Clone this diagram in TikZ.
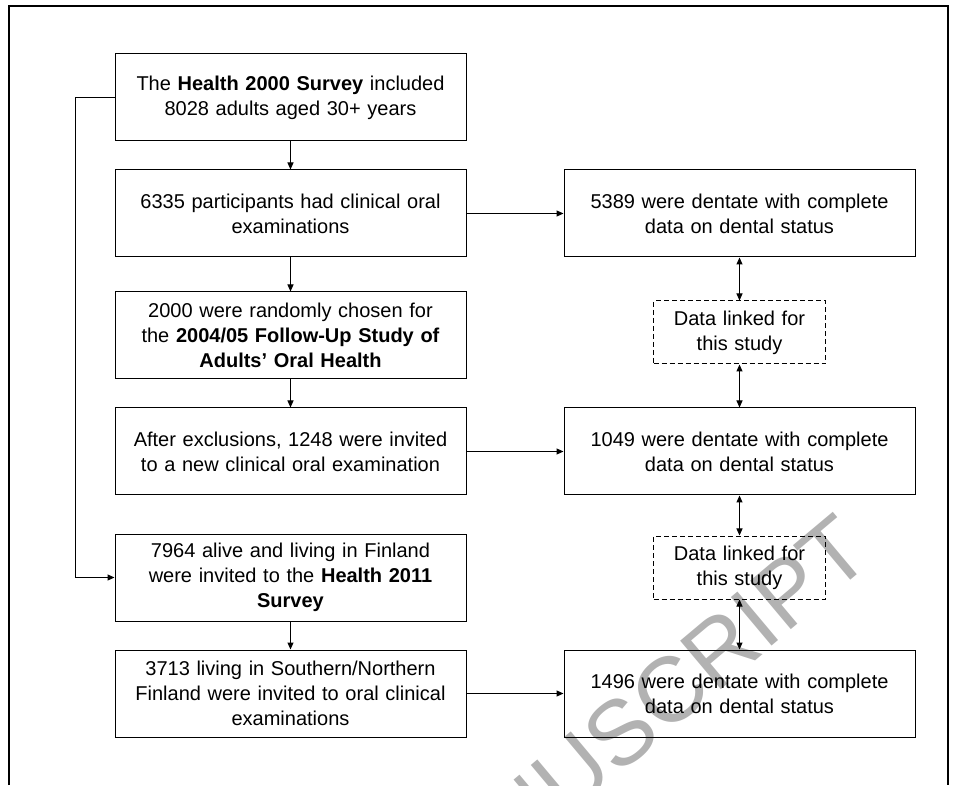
\documentclass[tikz,border=0pt]{standalone}
\usepackage{fontspec}
\setmainfont{Liberation Sans}
\usetikzlibrary{arrows.meta,positioning}

\begin{document}
\begin{tikzpicture}[x=1pt,y=1pt,>={Triangle[length=7pt,width=6pt]},line width=1pt,node distance=28pt,
box/.style={draw,minimum width=351pt,minimum height=87pt,text width=345pt,align=center,inner sep=0pt,font=\fontsize{20}{25}\selectfont},
dbox/.style={box,dash pattern=on 5pt off 3pt,minimum width=172pt,minimum height=63pt,text width=165pt}]
\useasboundingbox (0,0) rectangle (958,785);

% watermark
\node[rotate=40,anchor=base east,inner sep=0pt,text=black!30,font=\fontsize{92}{92}\selectfont] (wm) at (876,226) {MANUSCRIPT};
\draw[line width=1.8pt] (9,0) -- (9,779) -- (948,779) -- (948,0);

\node[box] (A) at (290.5,687.5) {The \textbf{Health 2000 Survey} included\\8028 adults aged 30+ years};
\node[box] (B) [below =of A] {6335 participants had clinical oral\\examinations};
\node[box] (C) [below =34pt of B] {2000 were randomly chosen for\\the \textbf{2004/05 Follow-Up Study of}\\\textbf{Adults’ Oral Health}};
\node[box] (D) [below =of C] {After exclusions, 1248 were invited\\to a new clinical oral examination};
\node[box] (E) [below =38pt of D] {7964 alive and living in Finland\\were invited to the \textbf{Health 2011}\\\textbf{Survey}};
\node[box] (F) [below =of E] {3713 living in Southern/Northern\\Finland were invited to oral clinical\\examinations};

\node[box] (B1) [right =97pt of B] {5389 were dentate with complete\\data on dental status};
\node[box] (D1) [right =97pt of D] {1049 were dentate with complete\\data on dental status};
\node[box] (F1) [right =97pt of F] {1496 were dentate with complete\\data on dental status};

\node[dbox] (L1) [below =43pt of B1] {Data linked for\\this study};
\node[dbox] (L2) [below =40pt of D1] {Data linked for\\this study};

\draw[->] (A) -- (B);
\draw[->] (B) -- (C);
\draw[->] (C) -- (D);
\draw[->] (E) -- (F);
\draw[->] (A.west) -- ++(-39,0) |- (E.west);

\draw[->] (B) -- (B1);
\draw[->] (D) -- (D1);
\draw[->] (F) -- (F1);

\draw[<->] (B1) -- (L1);
\draw[<->] (L1) -- (D1);
\draw[<->] (D1) -- (L2);
\draw[<->] (L2) -- (F1);
\end{tikzpicture}
\end{document}
